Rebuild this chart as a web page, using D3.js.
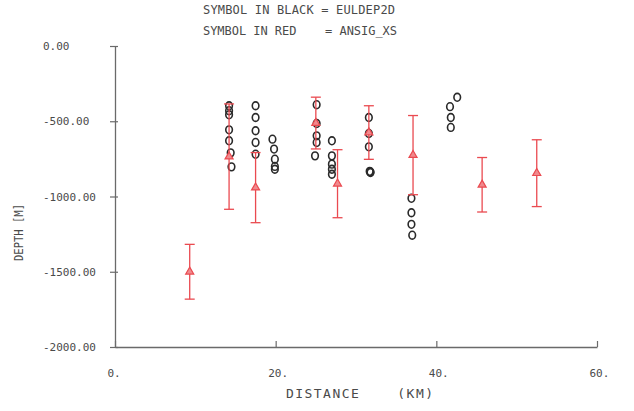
<!DOCTYPE html>
<html>
<head>
<meta charset="utf-8">
<script src="https://cdn.jsdelivr.net/npm/d3@7"></script>
<style>
  body { margin: 0; background: #fff; }
  text { font-family: "DejaVu Sans Mono", monospace; fill: #4a4a4a; }
</style>
</head>
<body>
<svg id="plot" width="634" height="411"></svg>
<script>
// red symbols (ANSIG_XS) with error bars
var redX   = [9.3, 14.2, 17.5, 25.0, 27.7, 31.6, 37.1, 45.7, 52.5];
var redY   = [-1500, -735, -941, -512, -915, -575, -725, -922, -845];
var redErr = [182, 350, 233, 172, 226, 178, 263, 181, 222];

// black circles (EULDEP2D)
var blackX = [14.2, 14.2, 14.2, 14.2, 14.2, 14.4, 14.5,
              17.5, 17.5, 17.5, 17.5, 17.5,
              19.6, 19.8, 19.9, 19.9, 19.9,
              25.1, 25.1, 25.1, 25.1, 24.9,
              27.0, 27.0, 27.0, 27.0, 27.0,
              31.6, 31.6, 31.6, 31.7, 31.8, 31.8,
              36.9, 36.9, 36.9, 37.0,
              42.6, 41.7, 41.8, 41.8];
var blackY = [-397, -430, -457, -557, -630, -710, -803,
              -397, -475, -563, -641, -719,
              -619, -685, -752, -800, -819,
              -390, -515, -597, -641, -730,
              -630, -730, -785, -819, -852,
              -475, -581, -670, -833, -837, -841,
              -1012, -1108, -1185, -1257,
              -341, -403, -475, -541];

var xTicks = [0, 20, 40, 60];
var xTickLabels = ["0.", "20.", "40.", "60."];
var yTicks = [0, -500, -1000, -1500, -2000];
var yTickLabels = ["0.00", "-500.00", "-1000.00", "-1500.00", "-2000.00"];

var svg = d3.select("#plot");
var axisColor = "#6a6a6a";

var x = d3.scaleLinear().domain([0, 60]).range([115, 597]);
var y = d3.scaleLinear().domain([-2000, 0]).range([347, 46]);

// title lines
svg.append("text").attr("x", 203).attr("y", 14).attr("font-size", 12)
   .attr("xml:space", "preserve").style("white-space", "pre")
   .attr("textLength", 192).attr("lengthAdjust", "spacing")
   .text("SYMBOL IN BLACK = EULDEP2D");
svg.append("text").attr("x", 203).attr("y", 35).attr("font-size", 12)
   .attr("xml:space", "preserve").style("white-space", "pre")
   .attr("textLength", 194).attr("lengthAdjust", "spacing")
   .text("SYMBOL IN RED    = ANSIG_XS");

// y axis
var yAxis = svg.append("g").attr("transform", "translate(" + x(0) + ",0)")
   .call(d3.axisLeft(y).tickValues(yTicks).tickSize(5).tickSizeOuter(0)
         .tickFormat(function(d, i) { return yTickLabels[i]; }));
yAxis.select(".domain").attr("stroke", axisColor).attr("stroke-width", 1.3);
yAxis.selectAll(".tick line").attr("stroke", axisColor).attr("stroke-width", 1.2).attr("x1", 3);
yAxis.selectAll(".tick text").attr("x", 43 - 115).attr("text-anchor", "start")
   .attr("font-size", 11).attr("font-family", "DejaVu Sans Mono").attr("fill", "#4a4a4a");

// x axis
var xAxis = svg.append("g").attr("transform", "translate(0," + y(-2000) + ")")
   .call(d3.axisBottom(x).tickValues(xTicks).tickSize(-6).tickSizeOuter(0)
         .tickFormat(function(d, i) { return xTickLabels[i]; }));
xAxis.select(".domain").attr("stroke", axisColor).attr("stroke-width", 1.3);
xAxis.selectAll(".tick line").attr("stroke", axisColor).attr("stroke-width", 1.2);
xAxis.selectAll(".tick text").attr("y", 22).attr("dx", -8).attr("text-anchor", "start")
   .attr("font-size", 11).attr("font-family", "DejaVu Sans Mono").attr("fill", "#4a4a4a");

// axis titles
svg.append("text").attr("x", 286).attr("y", 398).attr("font-size", 13)
   .attr("xml:space", "preserve").style("white-space", "pre")
   .attr("textLength", 147).attr("lengthAdjust", "spacing")
   .text("DISTANCE    (KM)");
svg.append("text").attr("transform", "translate(23,261) rotate(-90)").attr("font-size", 12.5)
   .attr("textLength", 57).attr("lengthAdjust", "spacingAndGlyphs")
   .text("DEPTH [M]");

// black circles
svg.append("g").selectAll("ellipse")
   .data(blackX.map(function(d, i) { return [d, blackY[i]]; }))
   .enter().append("ellipse")
   .attr("cx", function(d) { return x(d[0]); })
   .attr("cy", function(d) { return y(d[1]); })
   .attr("rx", 3.3).attr("ry", 3.9)
   .attr("fill", "none").attr("stroke", "#2a2a2a").attr("stroke-width", 1.6);

// red error bars + triangles
var red = redX.map(function(d, i) { return {x: d, y: redY[i], e: redErr[i]}; });
var rc = "#ea4a50";
var eg = svg.append("g").attr("stroke", rc).attr("stroke-width", 1.3);
eg.selectAll(".bar").data(red).enter().append("line")
  .attr("x1", function(d) { return x(d.x); }).attr("x2", function(d) { return x(d.x); })
  .attr("y1", function(d) { return y(d.y + d.e); }).attr("y2", function(d) { return y(d.y - d.e); });
eg.selectAll(".capT").data(red).enter().append("line")
  .attr("x1", function(d) { return x(d.x) - 5; }).attr("x2", function(d) { return x(d.x) + 5; })
  .attr("y1", function(d) { return y(d.y + d.e); }).attr("y2", function(d) { return y(d.y + d.e); });
eg.selectAll(".capB").data(red).enter().append("line")
  .attr("x1", function(d) { return x(d.x) - 5; }).attr("x2", function(d) { return x(d.x) + 5; })
  .attr("y1", function(d) { return y(d.y - d.e); }).attr("y2", function(d) { return y(d.y - d.e); });

svg.append("g").selectAll("path").data(red).enter().append("path")
   .attr("d", d3.symbol().type(d3.symbolTriangle).size(28))
   .attr("transform", function(d) { return "translate(" + x(d.x) + "," + y(d.y) + ")"; })
   .attr("fill", "#f08a8e").attr("stroke", rc).attr("stroke-width", 1.2);
</script>
</body>
</html>
